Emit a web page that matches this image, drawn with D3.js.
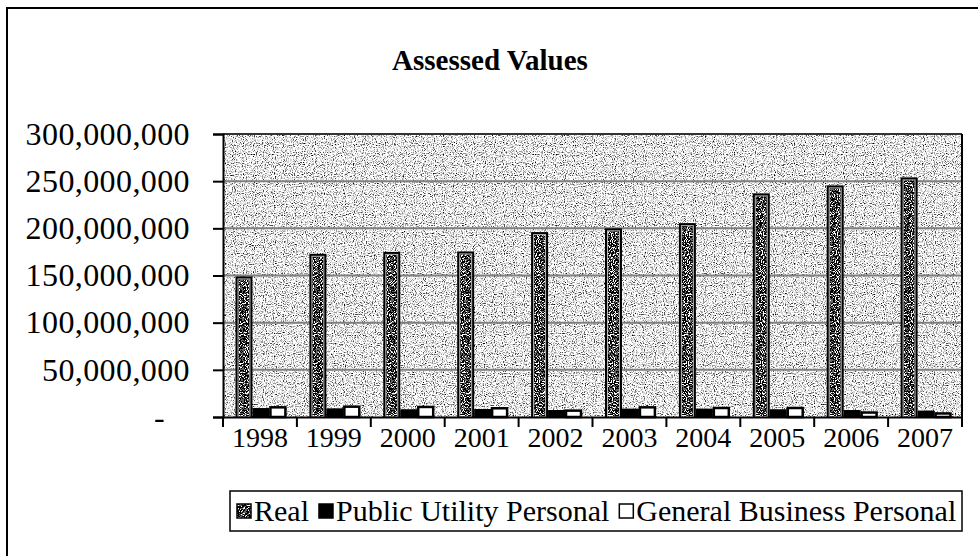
<!DOCTYPE html>
<html lang="en">
    <head>
        <meta charset="utf-8">
        <title>Assessed Values</title>
        <script src="https://d3js.org/d3.v7.min.js"></script>
        <style type="text/css">
            body { margin: 0; background: #fff; }
            svg text { font-family: "Liberation Serif", "Times New Roman", serif; fill: #000; }
        </style>
    </head>
    <body>
        <script type="text/javascript">

            // data
            const years = ["1998", "1999", "2000", "2001", "2002", "2003", "2004", "2005", "2006", "2007"];
            const real = [149000000, 173000000, 175000000, 175500000, 196000000, 200000000, 205500000, 237000000, 245500000, 254000000];
            const publicUtility = [9500000, 9200000, 8200000, 8500000, 7400000, 8900000, 8900000, 8200000, 7400000, 6800000];
            const generalBusiness = [11300000, 12000000, 11700000, 10300000, 7800000, 11300000, 10600000, 10600000, 5800000, 4800000];
            const seriesNames = ["Real", "Public Utility Personal", "General Business Personal"];
            const yTicks = [0, 50000000, 100000000, 150000000, 200000000, 250000000, 300000000];

            const w = 978;
            const h = 556;
            const plot = {left: 223, right: 962, top: 134, bottom: 417};
            const serif = '"Liberation Serif", "Times New Roman", serif';

            const data = years.map((y, i) => ({year: y, values: [real[i], publicUtility[i], generalBusiness[i]]}));

            const svg = d3.select("body")
                          .append("svg")
                          .attr("width", w)
                          .attr("height", h);

            // stipple textures
            const defs = svg.append("defs");
            function stipple(id, table, seed) {
                const f = defs.append("filter")
                              .attr("id", id)
                              .attr("x", 0).attr("y", 0)
                              .attr("width", 1).attr("height", 1)
                              .attr("color-interpolation-filters", "sRGB");
                f.append("feTurbulence")
                 .attr("type", "fractalNoise")
                 .attr("baseFrequency", 0.9)
                 .attr("numOctaves", 1)
                 .attr("seed", seed)
                 .attr("result", "noise");
                f.append("feColorMatrix")
                 .attr("in", "noise")
                 .attr("type", "matrix")
                 .attr("values", "1 0 0 0 0  1 0 0 0 0  1 0 0 0 0  0 0 0 0 1")
                 .attr("result", "gray");
                const ct = f.append("feComponentTransfer").attr("in", "gray").attr("result", "dots");
                ["feFuncR", "feFuncG", "feFuncB"].forEach(fn => {
                    ct.append(fn).attr("type", "discrete").attr("tableValues", table);
                });
                f.append("feComposite")
                 .attr("in", "dots")
                 .attr("in2", "SourceAlpha")
                 .attr("operator", "in");
            }
            stipple("bgStip", "0 0 0 0.3 0.6 0.85 1 1 1 1 1 1", 5);
            stipple("barStip", "0 0 0 0 0 0 0.4 1 1 1 1 1", 9);

            const xScale = d3.scaleBand()
                             .domain(years)
                             .range([plot.left, plot.right]);

            const x1 = d3.scaleBand()
                         .domain(d3.range(3))
                         .range([12.5, xScale.bandwidth() - 10.5]);

            const yScale = d3.scaleLinear()
                             .domain([0, 300000000])
                             .range([plot.bottom, plot.top]);

            // outer chart border
            svg.append("path")
               .attr("d", `M7,${h} V8 H${w}`)
               .attr("fill", "none")
               .attr("stroke", "#000")
               .attr("stroke-width", 2);

            // title
            svg.append("text")
               .attr("x", 490)
               .attr("y", 70)
               .attr("text-anchor", "middle")
               .style("font-family", serif)
               .style("font-size", "29px")
               .style("font-weight", "bold")
               .text("Assessed Values");

            // plot area background
            svg.append("rect")
               .attr("x", plot.left)
               .attr("y", plot.top)
               .attr("width", plot.right - plot.left)
               .attr("height", plot.bottom - plot.top)
               .attr("fill", "#fff")
               .attr("filter", "url(#bgStip)");

            // gridlines
            svg.append("g")
               .selectAll("line")
               .data(yTicks.filter(d => d > 0))
               .enter()
               .append("line")
               .attr("x1", plot.left)
               .attr("x2", plot.right)
               .attr("y1", d => yScale(d))
               .attr("y2", d => yScale(d))
               .attr("stroke", d => d === 300000000 ? "#333" : "#808080")
               .attr("stroke-width", 2);

            // right edge
            svg.append("line")
               .attr("x1", plot.right).attr("x2", plot.right)
               .attr("y1", plot.top).attr("y2", plot.bottom)
               .attr("stroke", "#000")
               .attr("stroke-width", 2);

            const groups = svg.selectAll("g.year")
                              .data(data)
                              .enter()
                              .append("g")
                              .attr("class", "year")
                              .attr("transform", d => `translate(${xScale(d.year)},0)`);

            // Real: black frame, light inner line, dark stipple
            const realBars = groups.append("g");
            realBars.append("rect")
                    .attr("x", x1(0))
                    .attr("y", d => yScale(d.values[0]))
                    .attr("width", x1.bandwidth())
                    .attr("height", d => plot.bottom - yScale(d.values[0]))
                    .attr("fill", "#000");
            realBars.append("rect")
                    .attr("x", x1(0) + 3)
                    .attr("y", d => yScale(d.values[0]) + 3)
                    .attr("width", x1.bandwidth() - 6)
                    .attr("height", d => plot.bottom - yScale(d.values[0]) - 3)
                    .attr("fill", "#fff")
                    .attr("filter", "url(#barStip)");
            realBars.append("rect")
                    .attr("x", x1(0) + 2.5)
                    .attr("y", d => yScale(d.values[0]) + 2.5)
                    .attr("width", x1.bandwidth() - 5)
                    .attr("height", d => plot.bottom - yScale(d.values[0]) - 2.5)
                    .attr("fill", "none")
                    .attr("stroke", "#bbb")
                    .attr("stroke-width", 1);

            // Public Utility: solid black
            groups.append("rect")
                  .attr("x", x1(1))
                  .attr("y", d => yScale(d.values[1]))
                  .attr("width", x1.bandwidth())
                  .attr("height", d => plot.bottom - yScale(d.values[1]))
                  .attr("fill", "#000");

            // General Business: white with black frame
            groups.append("rect")
                  .attr("x", x1(2) + 1)
                  .attr("y", d => yScale(d.values[2]) + 1)
                  .attr("width", x1.bandwidth() - 2)
                  .attr("height", d => plot.bottom - yScale(d.values[2]) - 1)
                  .attr("fill", "#fff")
                  .attr("stroke", "#000")
                  .attr("stroke-width", 2.5);

            // axes
            const leftAxis = d3.axisLeft(yScale)
                               .tickValues(yTicks)
                               .tickSize(10)
                               .tickPadding(23)
                               .tickFormat(d => d === 0 ? "-" : d3.format(",")(d));

            const yAxis = svg.append("g")
                             .attr("transform", `translate(${plot.left},0)`)
                             .call(leftAxis);
            yAxis.selectAll("text")
                 .style("font-family", serif)
                 .style("font-size", "32px")
                 .style("letter-spacing", "0.4px");
            yAxis.selectAll(".tick").filter(d => d === 0).select("text").attr("dx", -25);

            const bottomAxis = d3.axisBottom(xScale)
                                 .tickSize(0)
                                 .tickPadding(10);
            const xAxis = svg.append("g")
                             .attr("transform", `translate(0,${plot.bottom})`)
                             .call(bottomAxis);
            xAxis.selectAll("text")
                 .style("font-family", serif)
                 .style("font-size", "28px");

            // category separator ticks
            xAxis.selectAll("line.sep")
                 .data(years.concat(["end"]))
                 .enter()
                 .append("line")
                 .attr("class", "sep")
                 .attr("x1", (d, i) => plot.left + i * xScale.step())
                 .attr("x2", (d, i) => plot.left + i * xScale.step())
                 .attr("y1", 0)
                 .attr("y2", 10)
                 .attr("stroke", "#000")
                 .attr("stroke-width", 2);

            svg.selectAll(".domain").attr("stroke", "#000").attr("stroke-width", 2);
            svg.selectAll(".tick line").attr("stroke", "#000").attr("stroke-width", 2);

            // legend
            const legend = svg.append("g").attr("transform", "translate(230,491)");
            legend.append("rect")
                  .attr("width", 732)
                  .attr("height", 40)
                  .attr("fill", "#fff")
                  .attr("stroke", "#000")
                  .attr("stroke-width", 1.5);

            let cursor = 7;
            seriesNames.forEach((name, i) => {
                const item = legend.append("g").attr("transform", `translate(${cursor},0)`);
                item.append("rect")
                    .attr("x", 0)
                    .attr("y", 13)
                    .attr("width", 14)
                    .attr("height", 14)
                    .attr("fill", i === 1 ? "#000" : "#fff")
                    .attr("stroke", "#000")
                    .attr("stroke-width", 1.5)
                    .attr("filter", i === 0 ? "url(#barStip)" : null);
                if (i === 0) {
                    item.append("rect")
                        .attr("x", 0).attr("y", 13)
                        .attr("width", 14).attr("height", 14)
                        .attr("fill", "none")
                        .attr("stroke", "#000")
                        .attr("stroke-width", 1.5);
                }
                const t = item.append("text")
                              .attr("x", 17)
                              .attr("y", 30)
                              .style("font-family", serif)
                              .style("font-size", "30px")
                              .text(name);
                cursor += 17 + t.node().getComputedTextLength() + 10;
            });

        </script>
    </body>
</html>
